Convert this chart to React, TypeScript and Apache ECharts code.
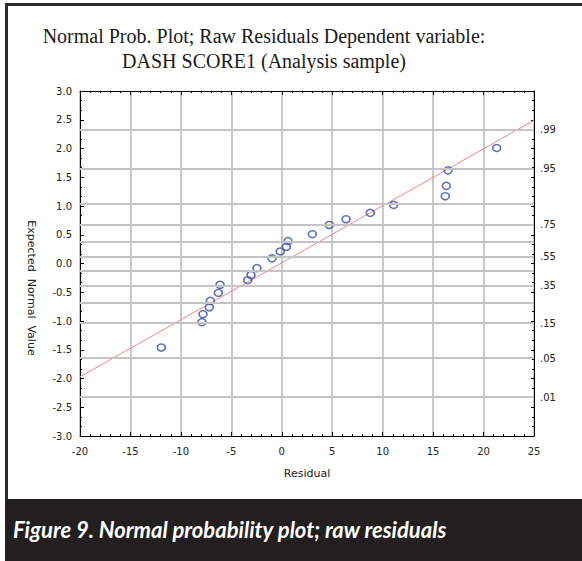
import React, { useEffect, useRef } from "react";
import * as echarts from "echarts";

// Residuals (x) and expected normal values (y)
const residuals = [-11.94, -7.91, -7.81, -7.18, -7.08, -6.29, -6.12, -3.38, -3.05, -2.46, -0.97, -0.15, 0.45, 0.62, 3.03, 4.71, 6.37, 8.77, 11.09, 16.21, 16.31, 16.48, 21.3];
const expectedNormal = [-1.46, -1.02, -0.88, -0.76, -0.65, -0.51, -0.37, -0.29, -0.2, -0.08, 0.09, 0.21, 0.29, 0.39, 0.51, 0.67, 0.77, 0.88, 1.02, 1.17, 1.35, 1.62, 2.01];

// Fitted reference line end points
const fitX = [-20, 25];
const fitY = [-1.97, 2.49];

// Right-axis probability scale (z position of each probability)
const probValues = [".99", ".95", ".85", ".75", ".65", ".55", ".45", ".35", ".25", ".15", ".05", ".01"];
const probZ = [2.326, 1.645, 1.036, 0.674, 0.385, 0.126, -0.126, -0.385, -0.674, -1.036, -1.645, -2.326];
const probLabelled = [".99", ".95", ".75", ".55", ".35", ".15", ".05", ".01"];

const titleLines = ["Normal Prob. Plot; Raw Residuals Dependent variable:", "DASH SCORE1 (Analysis sample)"];
const caption = "Figure 9. Normal probability plot; raw residuals";

export default function App() {
  const ref = useRef<HTMLDivElement>(null);
  useEffect(() => {
    if (!ref.current) return;
    const chart = echarts.init(ref.current, undefined, { renderer: "svg" });
    const tickFont = { fontFamily: "DejaVu Sans", fontSize: 10, color: "#222" };
    const labelledZ = probLabelled.map((p) => probZ[probValues.indexOf(p)]);
    const gridColor = "#c4c4c4";
    chart.setOption({
      animation: false,
      backgroundColor: "#fff",
      grid: { left: 80, right: 48, top: 91, bottom: 125 },
      xAxis: [
        {
          type: "value",
          min: -20,
          max: 25,
          interval: 5,
          position: "bottom",
          name: "Residual",
          nameLocation: "middle",
          nameGap: 32,
          nameTextStyle: { fontFamily: "DejaVu Sans", fontSize: 11, color: "#222" },
          axisLine: { show: true, onZero: false, lineStyle: { color: "#000", width: 1 } },
          axisTick: { show: true, inside: true, length: 4, lineStyle: { color: "#000" } },
          minorTick: { show: true, splitNumber: 5, length: 2, lineStyle: { color: "#000" } },
          axisLabel: { ...tickFont, margin: 10 },
          splitLine: { show: true, lineStyle: { color: gridColor, width: 1.8 } },
        },
        {
          type: "value",
          min: -20,
          max: 25,
          interval: 5,
          position: "top",
          axisLine: { show: true, onZero: false, lineStyle: { color: "#000", width: 1 } },
          axisTick: { show: true, inside: true, length: 4, lineStyle: { color: "#000" } },
          minorTick: { show: true, splitNumber: 5, length: 2, lineStyle: { color: "#000" } },
          axisLabel: { show: false },
          splitLine: { show: false },
        },
      ],
      yAxis: [
        {
          type: "value",
          min: -3,
          max: 3,
          interval: 0.5,
          position: "left",
          axisLine: { show: true, onZero: false, lineStyle: { color: "#000", width: 1 } },
          axisTick: { show: true, inside: true, length: 4, lineStyle: { color: "#000" } },
          minorTick: { show: true, splitNumber: 3, length: 2, lineStyle: { color: "#000" } },
          axisLabel: { ...tickFont, margin: 8, formatter: (v: number) => v.toFixed(1) },
          splitLine: { show: false },
        },
        {
          type: "value",
          min: -3,
          max: 3,
          interval: 0.5,
          position: "right",
          axisLine: { show: true, onZero: false, lineStyle: { color: "#000", width: 1 } },
          axisTick: { show: true, inside: true, length: 3, lineStyle: { color: "#000" } },
          minorTick: { show: true, splitNumber: 3, length: 2, lineStyle: { color: "#000" } },
          axisLabel: {
            ...tickFont,
            margin: 6,
            customValues: labelledZ,
            formatter: (v: number) => {
              let best = 0;
              for (let i = 0; i < labelledZ.length; i++) {
                if (Math.abs(labelledZ[i] - v) < Math.abs(labelledZ[best] - v)) best = i;
              }
              return probLabelled[best];
            },
          },
          splitLine: { show: false },
        },
      ],
      series: [
        {
          type: "scatter",
          name: "grid",
          xAxisIndex: 0,
          yAxisIndex: 0,
          silent: true,
          z: 1,
          symbol: "rect",
          symbolSize: [0, 0],
          itemStyle: { color: "rgba(0,0,0,0)" },
          data: probZ.map((z) => [-20, z]),
          markLine: {
            silent: true,
            symbol: ["none", "none"],
            label: { show: false },
            lineStyle: { color: gridColor, width: 2, type: "solid" },
            data: probZ.map((z) => [
              { coord: [-20, z] },
              { coord: [25, z] },
            ]),
          },
        },
        {
          type: "line",
          xAxisIndex: 0,
          yAxisIndex: 0,
          data: fitX.map((x, i) => [x, fitY[i]]),
          symbol: "none",
          z: 3,
          silent: true,
          lineStyle: { color: "#f08585", width: 1 },
        },
        {
          type: "scatter",
          xAxisIndex: 0,
          yAxisIndex: 0,
          data: residuals.map((x, i) => [x, expectedNormal[i]]),
          symbol: "circle",
          symbolSize: [8, 7],
          z: 4,
          itemStyle: { color: "rgba(255,255,255,0)", borderColor: "#3a50a5", borderWidth: 1.6 },
        },
      ],
      graphic: [
        { type: "rect", shape: { x: 5, y: 3, width: 577, height: 3 }, style: { fill: "#2b2b2b" } },
        { type: "rect", shape: { x: 5, y: 3, width: 3, height: 497 }, style: { fill: "#2b2b2b" } },
        { type: "rect", shape: { x: 5, y: 499, width: 577, height: 62 }, style: { fill: "#231f20" } },
        {
          type: "text",
          x: 13,
          y: 529,
          style: {
            text: caption,
            fill: "#fff",
            font: 'italic bold 22px "Lato"',
            textAlign: "left",
            align: "left",
            textVerticalAlign: "middle",
            verticalAlign: "middle",
          },
        },
        ...titleLines.map((t, i) => ({
          type: "text",
          x: 264,
          y: 36 + i * 25,
          style: {
            text: t,
            fill: "#1a1a1a",
            font: '20px "Liberation Serif"',
            textAlign: "center",
            align: "center",
            textVerticalAlign: "middle",
            verticalAlign: "middle",
          },
        })),
        {
          type: "text",
          x: 31,
          y: 288,
          rotation: -Math.PI / 2,
          style: {
            text: "Expected  Normal  Value",
            fill: "#222",
            font: '11px "DejaVu Sans"',
            textAlign: "center",
            align: "center",
            textVerticalAlign: "middle",
            verticalAlign: "middle",
          },
        },
      ],
    });
    return () => chart.dispose();
  }, []);
  return <div ref={ref} style={{ position: "fixed", left: 0, top: 0, width: 582, height: 561 }} />;
}
